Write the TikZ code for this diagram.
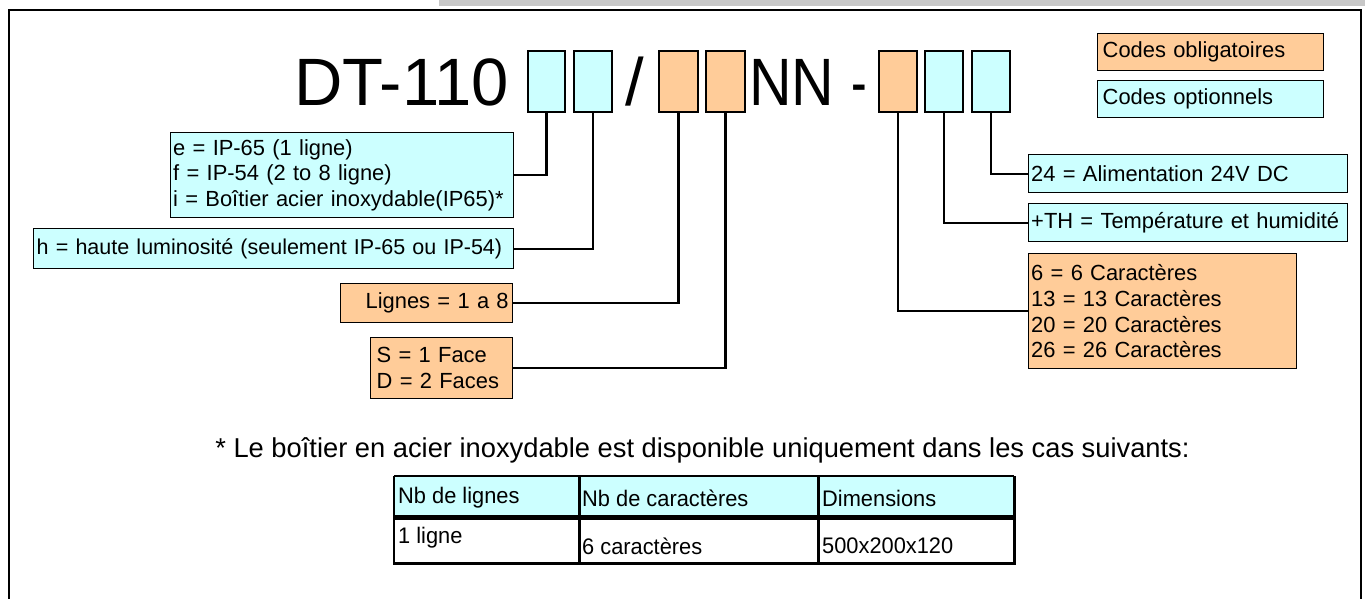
\documentclass[tikz,border=0pt]{standalone}
\usepackage{fontspec}
\setmainfont{Liberation Sans}
\definecolor{cyanbox}{HTML}{CCFFFF}
\definecolor{orangebox}{HTML}{FFCC99}
\definecolor{graybar}{HTML}{C8C8C8}
\begin{document}
\begin{tikzpicture}[x=1pt,y=-1pt,
  codebox/.style={draw=black,line width=1.6pt,minimum width=37pt,minimum height=61pt,inner sep=0pt,anchor=north west},
  cy/.style={fill=cyanbox},
  og/.style={fill=orangebox},
  descbox/.style={draw=black,line width=1.4pt,anchor=north west,inner xsep=5pt,inner ysep=0pt,align=left,font=\fontsize{21.9}{25.8}\selectfont},
  conn/.style={draw=black,line width=2.4pt},
  bigtext/.style={inner sep=0pt,font=\fontsize{67}{72}\selectfont},
  tabtext/.style={inner sep=0pt,anchor=west,font=\fontsize{22.5}{25}\selectfont}
]
\useasboundingbox (0,0) rectangle (1365,599);
\fill[white] (0,0) rectangle (1365,599);
% gray bar and frame
\fill[graybar] (439,0) rectangle (1365,6);
\draw[line width=2pt] (9,605) -- (9,10.5) -- (1361,10.5) -- (1361,605);
% title
\node[bigtext,anchor=base east] (dt) at (509,106) {DT-110};
\node[bigtext,anchor=base] (sl) at (635,106) {/};
\node[bigtext,anchor=base west,xscale=0.88] (nn) at (749,106) {NN};
\node[bigtext,anchor=base,xscale=0.7] (dash) at (859,106) {-};
% code boxes
\node[codebox,cy,minimum width=37pt] (c1) at (527,50) {};
\node[codebox,cy,minimum width=38pt] (c2) at (573,50) {};
\node[codebox,og,minimum width=39pt] (c3) at (658,50) {};
\node[codebox,og,minimum width=39pt] (c4) at (705,50) {};
\node[codebox,og,minimum width=38pt] (c5) at (878,50) {};
\node[codebox,cy,minimum width=38pt] (c6) at (924,50) {};
\node[codebox,cy,minimum width=38pt] (c7) at (971,50) {};
% legend
\node[descbox,og,minimum width=226pt,minimum height=37pt,text width=216pt,inner xsep=5pt] (lo) at (1097,33) {Codes obligatoires};
\node[descbox,cy,minimum width=226pt,minimum height=37pt,text width=216pt,inner xsep=5pt] (lc) at (1097,80) {Codes optionnels};
% left description boxes
\node[descbox,cy,minimum width=343pt,minimum height=85pt,text width=338pt,inner xsep=2.5pt] (be) at (170,132) {\mbox{e = IP-65 (1 ligne)}\\\mbox{f = IP-54 (2 to 8 ligne)}\\\mbox{i = Boîtier acier inoxydable(IP65)*}};
\node[descbox,cy,minimum width=480pt,minimum height=40pt,text width=474pt,inner xsep=3pt,font=\fontsize{21.5}{25.8}\selectfont] (bh) at (33,228) {\mbox{h = haute luminosité (seulement IP-65 ou IP-54)}};
\node[descbox,og,minimum width=172pt,minimum height=39pt,text width=164pt,align=right,inner xsep=4pt] (bl) at (340,283) {\mbox{Lignes = 1 a 8}};
\node[descbox,og,minimum width=142pt,minimum height=61pt,text width=130pt,inner xsep=6pt] (bs) at (370,337) {\mbox{S = 1 Face}\\\mbox{D = 2 Faces}};
% right description boxes
\node[descbox,cy,minimum width=319pt,minimum height=38pt,text width=314pt,inner xsep=2.5pt] (b24) at (1028,154) {\mbox{24 = Alimentation 24V DC}};
\node[descbox,cy,minimum width=319pt,minimum height=38pt,text width=314pt,inner xsep=2.5pt] (bth) at (1028,203) {\mbox{+TH = Température et humidité}};
\node[descbox,og,minimum width=268pt,minimum height=115pt,text width=263pt,inner xsep=2.5pt] (bc) at (1028,253) {\mbox{6 = 6 Caractères}\\\mbox{13 = 13 Caractères}\\\mbox{20 = 20 Caractères}\\\mbox{26 = 26 Caractères}};
% connectors
\draw[conn] (c1.south) |- (be.east);
\draw[conn] (c2.south) |- (bh.east);
\draw[conn] (c3.south) |- (bl.east);
\draw[conn] (c4.south) |- (bs.east);
\draw[conn] (c7.south) |- (b24.west);
\draw[conn] (c6.south) |- (bth.west);
\draw[conn] (c5.south) |- (bc.west);
% footnote
\node[inner sep=0pt,anchor=base,font=\fontsize{27.3}{31}\selectfont] (fn) at (702.5,457) {* Le boîtier en acier inoxydable est disponible uniquement dans les cas suivants:};
% table
\fill[cyanbox] (394,476) rectangle (1014,516);
\fill[white] (394,516) rectangle (1014,563);
\draw[line width=1.5pt] (394,476) -- (1014,476);
\draw[line width=1.5pt] (394,476) -- (394,563);
\draw[line width=3pt] (1014,476) -- (1014,564);
\draw[line width=3pt] (393,563) -- (1015.5,563);
\draw[line width=5pt] (394,517) -- (1014,517);
\draw[line width=3pt] (579,476) -- (579,563);
\draw[line width=3pt] (818,476) -- (818,563);
\node[tabtext,xscale=0.97] (t11) at (398,498) {Nb de lignes};
\node[tabtext,xscale=0.97] (t12) at (582,498) {Nb de caractères};
\node[tabtext,xscale=0.97] (t13) at (822,498) {Dimensions};
\node[tabtext,xscale=0.97] (t21) at (398,538) {1 ligne};
\node[tabtext,xscale=0.97] (t22) at (582,546) {6 caractères};
\node[tabtext,xscale=0.97] (t23) at (822,546) {500x200x120};
\end{tikzpicture}
\end{document}
